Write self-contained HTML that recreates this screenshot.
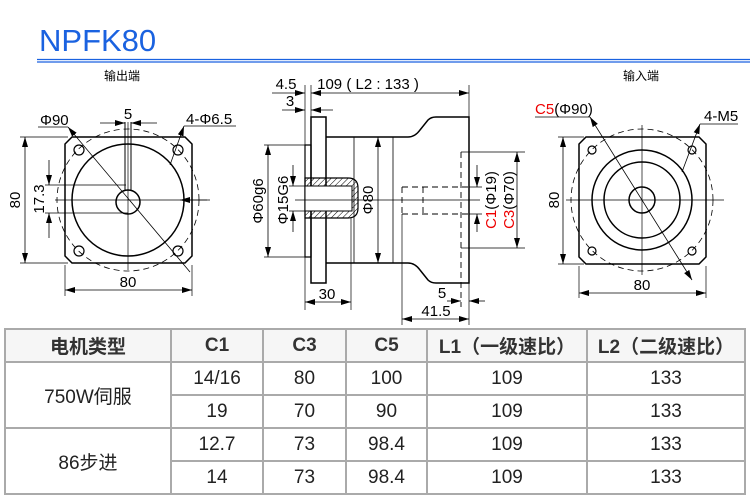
<!DOCTYPE html>
<html><head><meta charset="utf-8"><style>
body{margin:0;width:750px;height:500px;background:#fff;overflow:hidden;position:relative;font-family:"Liberation Sans","Noto Sans CJK SC",sans-serif}
svg{position:absolute;left:0;top:0}
table{position:absolute;left:4px;top:328px;border-collapse:collapse;font-family:"Liberation Sans","Noto Sans CJK SC",sans-serif}
td{border:2px solid #aaa;text-align:center;font-size:19px;color:#222;height:31px;padding:0}
tr.h td{background:#f6f6f6;font-weight:bold;color:#333}
</style></head><body>
<svg width="750" height="500" viewBox="0 0 750 500" font-family="Liberation Sans, Noto Sans CJK SC, sans-serif">
<defs>
<marker id="a" viewBox="0 0 10 6" refX="10" refY="3" markerWidth="10" markerHeight="6" orient="auto-start-reverse" markerUnits="userSpaceOnUse"><path d="M0,0L10,3L0,6z" fill="#000"/></marker>
<pattern id="hp" width="4" height="4" patternUnits="userSpaceOnUse" patternTransform="rotate(45)"><line x1="0" y1="0" x2="0" y2="4" stroke="#000" stroke-width="1"/></pattern>
</defs>
<text x="39" y="51" font-size="31" fill="#1a62e0">NPFK80</text>
<line x1="37" y1="59.5" x2="750" y2="59.5" stroke="#1a62e0" stroke-width="1.2"/>
<line x1="37" y1="62" x2="750" y2="62" stroke="#1a62e0" stroke-width="1.2"/>
<g font-size="12" fill="#000"><text x="122" y="80" text-anchor="middle">输出端</text><text x="641" y="80" text-anchor="middle">输入端</text></g>

<g stroke="#000" fill="none" stroke-width="1">
<path d="M72,137H185L192,144V256L185,263H72L65,256V144Z" stroke-width="1.5"/>
<circle cx="128" cy="200" r="56" stroke-width="1.5"/>
<circle cx="128" cy="200" r="71" stroke-dasharray="6,4" stroke-width=".8"/>
<circle cx="128" cy="202" r="12" stroke-width="1.5"/>
<path d="M125,190V122M131,190V122"/>
<line x1="55" y1="200" x2="207" y2="200" stroke-width=".7"/>
<line x1="128" y1="122" x2="128" y2="270" stroke-width=".7"/>
<g stroke-width="1.2"><circle cx="79" cy="150" r="5"/><circle cx="178" cy="150" r="5"/><circle cx="79" cy="251" r="5"/><circle cx="178" cy="251" r="5"/></g>
<line x1="38" y1="127" x2="68" y2="127" stroke-width=".8"/>
<line x1="68" y1="127" x2="190" y2="272" stroke-width=".8" marker-start="url(#a)"/>
<line x1="184" y1="126" x2="236" y2="126" stroke-width=".8"/>
<line x1="184" y1="126" x2="170" y2="165" stroke-width=".8" marker-start="url(#a)"/>
<line x1="25" y1="137" x2="25" y2="263" marker-start="url(#a)" marker-end="url(#a)" stroke-width=".8"/>
<path d="M20,137H68M20,263H68" stroke-width=".7"/>
<line x1="49" y1="160" x2="49" y2="185" marker-end="url(#a)" stroke-width=".8"/>
<line x1="49" y1="238" x2="49" y2="213" marker-end="url(#a)" stroke-width=".8"/>
<path d="M45,185H126M45,213H128" stroke-width=".7"/>
<line x1="65" y1="290" x2="192" y2="290" marker-start="url(#a)" marker-end="url(#a)" stroke-width=".8"/>
<path d="M65,265V296M192,265V296" stroke-width=".7"/>
<line x1="100" y1="123" x2="125" y2="123" marker-end="url(#a)" stroke-width=".8"/>
<line x1="157" y1="123" x2="131" y2="123" marker-end="url(#a)" stroke-width=".8"/>
<line x1="210" y1="200" x2="180" y2="200" marker-end="url(#a)" stroke-width=".8"/>

<path d="M311,117H326V283H311Z" stroke-width="1.5"/>
<path d="M305,145H311V257H305Z" stroke-width="1.2"/>
<path d="M326,137H408Q415,137 420,130L428,120Q431,117 436,117H469V283H436Q431,283 428,280L420,270Q415,263 408,263H326" stroke-width="1.5"/>
<path d="M354,137V263M393,137V263" stroke-width=".8"/>
<path d="M305,178H348Q358,178 358,188V208Q358,218 348,218H305Z" fill="url(#hp)" stroke-width="1.2"/>
<path d="M305,186H352V211H305Z" fill="#fff" stroke-width="1"/>
<line x1="295" y1="200" x2="480" y2="200" stroke-width=".7"/>
<path d="M402,187H469M402,214H469M402,187V214M423,187V214" stroke-dasharray="6,4" stroke-width=".9"/>
<path d="M461,152V307" stroke-dasharray="6,4" stroke-width=".9"/>
<path d="M461,152H525M461,248H525" stroke-width=".7"/>
<line x1="517" y1="152" x2="517" y2="248" marker-start="url(#a)" marker-end="url(#a)" stroke-width=".8"/>
<line x1="477" y1="165" x2="477" y2="187" marker-end="url(#a)" stroke-width=".8"/>
<line x1="477" y1="232" x2="477" y2="214" marker-end="url(#a)" stroke-width=".8"/>
<path d="M469,187H482M469,214H482" stroke-width=".7"/>
<line x1="378" y1="137" x2="378" y2="263" marker-start="url(#a)" marker-end="url(#a)" stroke-width=".8"/>
<line x1="268" y1="145" x2="268" y2="257" marker-start="url(#a)" marker-end="url(#a)" stroke-width=".8"/>
<path d="M264,145H305M264,257H305" stroke-width=".7"/>
<line x1="293" y1="165" x2="293" y2="186" marker-end="url(#a)" stroke-width=".8"/>
<line x1="293" y1="232" x2="293" y2="211" marker-end="url(#a)" stroke-width=".8"/>
<path d="M289,186H305M289,211H305" stroke-width=".7"/>
<path d="M305,85V145M311,85V117M469,85V117M305,257V310M351,218V310M402,214V325M469,283V325" stroke-width=".7"/>
<line x1="272" y1="93" x2="305" y2="93" marker-end="url(#a)" stroke-width=".8"/>
<line x1="311" y1="93" x2="469" y2="93" marker-start="url(#a)" marker-end="url(#a)" stroke-width=".8"/>
<line x1="282" y1="110" x2="305" y2="110" marker-end="url(#a)" stroke-width=".8"/>
<line x1="333" y1="110" x2="311" y2="110" marker-end="url(#a)" stroke-width=".8"/>
<line x1="305" y1="302" x2="351" y2="302" marker-start="url(#a)" marker-end="url(#a)" stroke-width=".8"/>
<line x1="447" y1="301" x2="461" y2="301" marker-end="url(#a)" stroke-width=".8"/>
<line x1="485" y1="301" x2="469" y2="301" marker-end="url(#a)" stroke-width=".8"/>
<line x1="402" y1="319" x2="469" y2="319" marker-start="url(#a)" marker-end="url(#a)" stroke-width=".8"/>

<path d="M586,137H699L706,144V257L699,264H586L579,257V144Z" stroke-width="1.5"/>
<circle cx="642" cy="200" r="71" stroke-dasharray="6,4" stroke-width=".8"/>
<circle cx="642" cy="200" r="50" stroke-width="1.5"/>
<circle cx="642" cy="200" r="38" stroke-width="1.5"/>
<circle cx="642" cy="200" r="13" stroke-width="1.5"/>
<line x1="566" y1="200" x2="724" y2="200" stroke-width=".7"/>
<line x1="642" y1="125" x2="642" y2="275" stroke-width=".7"/>
<g stroke-width="1.2"><circle cx="592" cy="150" r="4"/><circle cx="692" cy="150" r="4"/><circle cx="592" cy="251" r="4"/><circle cx="692" cy="251" r="4"/></g>
<line x1="535" y1="117" x2="590" y2="117" stroke-width=".8"/>
<line x1="590" y1="117" x2="692" y2="280" stroke-width=".8" marker-start="url(#a)" marker-end="url(#a)"/>
<line x1="700" y1="124" x2="738" y2="124" stroke-width=".8"/>
<line x1="700" y1="124" x2="682" y2="172" stroke-width=".8" marker-start="url(#a)"/>
<line x1="563" y1="137" x2="563" y2="264" marker-start="url(#a)" marker-end="url(#a)" stroke-width=".8"/>
<path d="M558,137H584M558,264H584" stroke-width=".7"/>
<line x1="579" y1="293" x2="706" y2="293" marker-start="url(#a)" marker-end="url(#a)" stroke-width=".8"/>
<path d="M579,266V298M706,266V298" stroke-width=".7"/>
</g>

<g font-size="15" fill="#000">
<text x="40" y="125">Φ90</text>
<text x="128" y="119" text-anchor="middle">5</text>
<text x="186" y="124">4-Φ6.5</text>
<text transform="translate(20,200) rotate(-90)" text-anchor="middle">80</text>
<text transform="translate(44,199) rotate(-90)" text-anchor="middle">17.3</text>
<text x="128" y="287" text-anchor="middle">80</text>
<text x="286" y="89" text-anchor="middle">4.5</text>
<text x="290" y="106" text-anchor="middle">3</text>
<text x="368" y="89" text-anchor="middle">109 ( L2 :  133 )</text>
<text transform="translate(263,201) rotate(-90)" text-anchor="middle">Φ60g6</text>
<text transform="translate(288,200) rotate(-90)" text-anchor="middle">Φ15G6</text>
<text transform="translate(373,200) rotate(-90)" text-anchor="middle">Φ80</text>
<text transform="translate(496,200) rotate(-90)" text-anchor="middle"><tspan fill="#e00">C1</tspan>(Φ19)</text>
<text transform="translate(514,200) rotate(-90)" text-anchor="middle"><tspan fill="#e00">C3</tspan>(Φ70)</text>
<text x="327" y="299" text-anchor="middle">30</text>
<text x="442" y="298" text-anchor="middle">5</text>
<text x="436" y="316" text-anchor="middle">41.5</text>
<text x="535" y="114"><tspan fill="#e00">C5</tspan>(Φ90)</text>
<text x="704" y="121">4-M5</text>
<text transform="translate(559,200) rotate(-90)" text-anchor="middle">80</text>
<text x="642" y="290" text-anchor="middle">80</text>
</g>
</svg>
<table>
<tr class="h"><td style="width:164px">电机类型</td><td style="width:90px">C1</td><td style="width:81px">C3</td><td style="width:79px">C5</td><td style="width:158px">L1（一级速比）</td><td style="width:156px">L2（二级速比）</td></tr>
<tr><td rowspan="2">750W伺服</td><td>14/16</td><td>80</td><td>100</td><td>109</td><td>133</td></tr>
<tr><td>19</td><td>70</td><td>90</td><td>109</td><td>133</td></tr>
<tr><td rowspan="2">86步进</td><td>12.7</td><td>73</td><td>98.4</td><td>109</td><td>133</td></tr>
<tr><td>14</td><td>73</td><td>98.4</td><td>109</td><td>133</td></tr>
</table>
</body></html>
